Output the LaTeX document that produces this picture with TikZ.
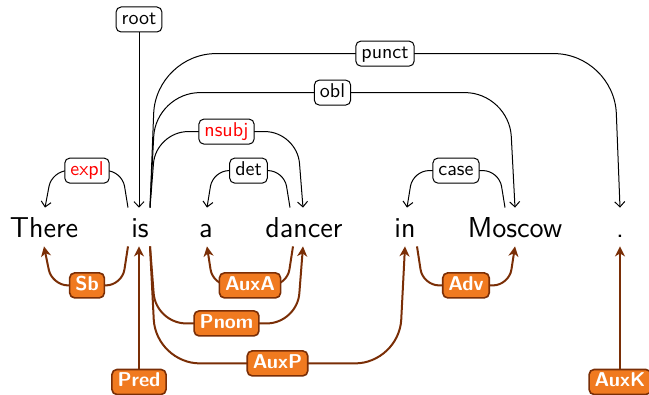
\documentclass[tikz,border=0pt]{standalone}
\usepackage{fontspec}
\usetikzlibrary{arrows.meta, calc}

\definecolor{deporange}{RGB}{240,122,32}
\definecolor{depbrown}{RGB}{122,46,6}

\begin{document}
\begin{tikzpicture}[
    x=0.5pt, y=-0.5pt,
    word/.style={font=\sffamily\Large, inner sep=0pt, text height=15pt, text depth=4pt, anchor=base},
    toplabel/.style={draw=black, line width=0.5pt, fill=white, rounded corners=2.5pt, font=\sffamily,
        inner xsep=2.8pt, inner ysep=1.75pt, text height=7pt, text depth=2pt},
    botlabel/.style={draw=depbrown, line width=0.8pt, fill=deporange, text=white, rounded corners=2.5pt,
        font=\sffamily\bfseries, inner xsep=2.8pt, inner ysep=1.75pt, text height=7pt, text depth=2pt},
    topedge/.style={draw=black, line width=0.5pt, -{Straight Barb[length=2.6pt, width=5pt]}},
    botedge/.style={draw=depbrown, line width=1pt, -{Stealth[length=5pt, width=5pt, inset=1.5pt]}}
]
\useasboundingbox (0,0) rectangle (649,395);

% -------------------------------------------------------------------------
% Words on one baseline
% -------------------------------------------------------------------------
\node[word] (There)  at (44, 238) {There};
\node[word] (is)     at (140, 238) {is};
\node[word] (a)      at (206, 238) {a};
\node[word] (dancer) at (304, 238) {dancer};
\node[word] (in)     at (405, 238) {in};
\node[word] (Moscow) at (515, 238) {Moscow};
\node[word] (dot)    at (620, 238) {.};

% -------------------------------------------------------------------------
% Upper arcs (black)
% -------------------------------------------------------------------------

% root hangs from the top
\node[toplabel] (root) at (139, 19.5) {root};
\draw[topedge] (root.south) -- ($(is.north)+(-1,0)$);

% short arcs, one level high
\draw[topedge, rounded corners=8] ($(is.north)+(-12,0)$) -- ($(is.north)+(-18,-37)$)
    -- node[toplabel, text=red] (expl) {expl} ($(There.north)+(8,-37)$) -- ($(There.north)+(1,0)$);
\draw[topedge, rounded corners=8] ($(dancer.north)+(-14,0)$) -- ($(dancer.north)+(-20,-37)$)
    -- node[toplabel] (det) {det} ($(a.north)+(7,-37)$) -- ($(a.north)+(1,0)$);
\draw[topedge, rounded corners=8] ($(Moscow.north)+(-10,0)$) -- ($(Moscow.north)+(-16,-37)$)
    -- node[toplabel] (case) {case} ($(in.north)+(8,-37)$) -- ($(in.north)+(2,0)$);

% long arcs leaving "is" to the right
\draw[topedge, rounded corners=16] ($(is.north)+(10,0)$) -- ($(is.north)+(16,-76)$)
    -- node[toplabel, text=red] (nsubj) {nsubj} ($(dancer.north)+(-7,-76)$) -- ($(dancer.north)+(-1,0)$);
\draw[topedge, rounded corners=22] ($(is.north)+(10,0)$) -- ($(is.north)+(16,-115)$)
    -- node[toplabel] (obl) {obl} ($(Moscow.north)+(-6,-115)$) -- (Moscow.north);
\draw[topedge, rounded corners=30] ($(is.north)+(10,0)$) -- ($(is.north)+(16,-154)$)
    -- node[toplabel] (punct) {punct} ($(dot.north)+(-6,-154)$) -- (dot.north);

% -------------------------------------------------------------------------
% Lower arcs (brown)
% -------------------------------------------------------------------------
\draw[botedge, rounded corners=8] ($(is.south)+(-12,0)$) -- ($(is.south)+(-18,39)$)
    -- node[botlabel] (Sb) {Sb} ($(There.south)+(8,39)$) -- (There.south);
\draw[botedge, rounded corners=8] ($(dancer.south)+(-11,0)$) -- ($(dancer.south)+(-17,39)$)
    -- node[botlabel] (AuxA) {AuxA} ($(a.south)+(7,39)$) -- ($(a.south)+(1,0)$);
\draw[botedge, rounded corners=8] ($(in.south)+(12,0)$) -- ($(in.south)+(18,39)$)
    -- node[botlabel] (Adv) {Adv} ($(Moscow.south)+(-6,39)$) -- (Moscow.south);

\draw[botedge, rounded corners=15] ($(is.south)+(10,0)$) -- ($(is.south)+(16,77)$)
    -- node[botlabel] (Pnom) {Pnom} ($(dancer.south)+(-7,77)$) -- ($(dancer.south)+(-1,0)$);
\draw[botedge, rounded corners=22] ($(is.south)+(10,0)$) -- ($(is.south)+(16,117)$)
    -- node[botlabel] (AuxP) {AuxP} ($(in.south)+(-6,117)$) -- (in.south);

% vertical ones from below
\node[botlabel] (Pred) at (139, 382) {Pred};
\draw[botedge] (Pred.north) -- ($(is.south)+(-1,0)$);
\node[botlabel] (AuxK) at (620, 382) {AuxK};
\draw[botedge] (AuxK.north) -- (dot.south);

\end{tikzpicture}
\end{document}
